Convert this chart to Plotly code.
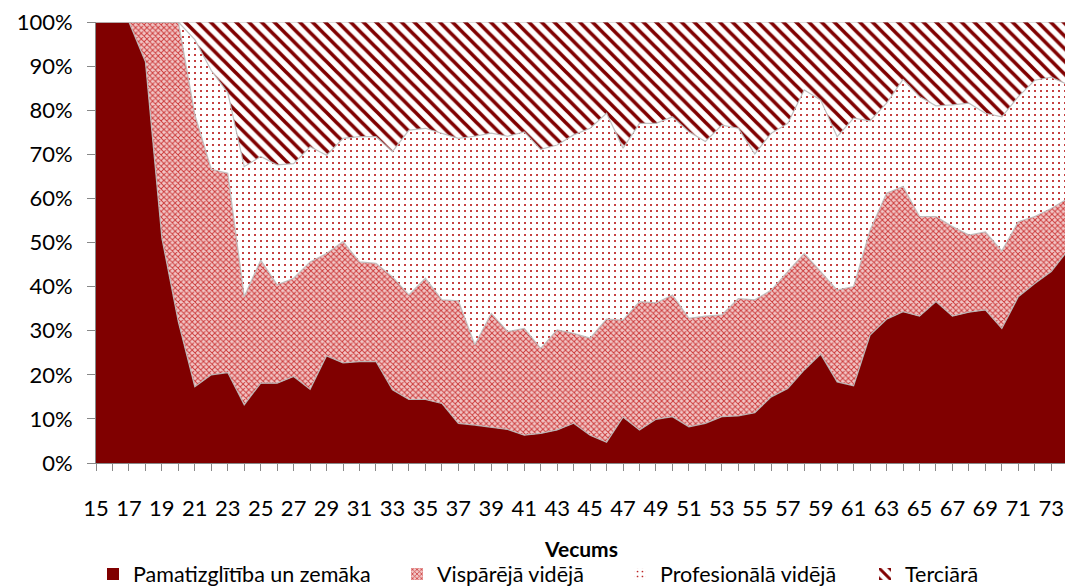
import plotly.graph_objects as go

ages = list(range(15, 75))

pamat = [100, 100, 100, 91, 51, 32, 17.3, 20, 20.5, 13.2,
         18.1, 18.1, 19.6, 16.7, 24.3, 22.7, 23.0, 23.0, 16.6, 14.4,
         14.4, 13.5, 9.0, 8.6, 8.1, 7.6, 6.3, 6.7, 7.5, 9.0,
         6.3, 4.7, 10.4, 7.5, 9.9, 10.5, 8.2, 9.0, 10.5, 10.7,
         11.4, 15.0, 16.9, 21.1, 24.7, 18.4, 17.5, 29.0, 32.6, 34.3,
         33.3, 36.6, 33.3, 34.2, 34.7, 30.5, 37.7, 40.7, 43.4, 48.2]

vispar = [0, 0, 0, 9, 49, 68, 61.7, 46.6, 45.2, 24.5,
          27.9, 22.3, 22.3, 28.9, 23.2, 27.5, 22.6, 22.3, 25.6, 23.7,
          27.5, 23.5, 27.8, 18.2, 25.8, 22.2, 24.2, 19.3, 22.7, 20.4,
          22.0, 27.9, 22.0, 29.1, 26.4, 27.6, 24.6, 24.3, 23.1, 26.6,
          25.6, 24.2, 26.5, 26.4, 18.7, 20.8, 22.5, 23.8, 28.6, 28.4,
          22.6, 19.3, 20.3, 17.5, 17.7, 17.6, 17.0, 15.2, 14.3, 11.8]

prof = [0, 0, 0, 0, 0, 0, 17, 22.4, 18.3, 29.5,
        23.5, 27.2, 26.0, 26.1, 22.3, 23.4, 28.4, 28.7, 28.4, 37.4,
        34.0, 37.8, 36.8, 47.3, 40.9, 44.3, 44.6, 45.1, 41.9, 45.0,
        47.6, 46.7, 39.0, 40.4, 40.7, 40.4, 42.3, 39.6, 43.0, 38.6,
        33.1, 35.6, 33.6, 37.1, 38.9, 34.8, 38.2, 24.8, 20.4, 24.3,
        27.2, 25.1, 27.6, 29.9, 26.9, 30.4, 28.4, 30.9, 29.8, 25.8]

terc = [0, 0, 0, 0, 0, 0, 4, 11, 16, 32.8,
        30.5, 32.4, 32.1, 28.3, 30.2, 26.4, 26, 26, 29.4, 24.5,
        24.1, 25.2, 26.4, 25.9, 25.2, 25.9, 24.9, 28.9, 27.9, 25.6,
        24.1, 20.7, 28.6, 23, 23, 21.5, 24.9, 27.1, 23.4, 24.1,
        29.9, 25.2, 23, 15.4, 17.7, 26, 21.8, 22.4, 18.4, 13,
        16.9, 19, 18.8, 18.4, 20.7, 21.5, 16.9, 13.2, 12.5, 14.2]

names = ["Pamatizglītība un zemāka", "Vispārējā vidējā", "Profesionālā vidējā", "Terciārā"]
tick_vals = list(range(15, 75, 2))
tick_text = [str(v) for v in tick_vals]
y_vals = list(range(0, 101, 10))
y_text = [f"{v}%" for v in y_vals]

FONT = "Lato"
DARK = "#800000"
edge = "rgba(185,185,185,0.9)"

W, H = 1065, 588
L, T, B = 96, 22, 125
plot_h = H - T - B

patterns = [
    None,
    dict(shape="x", size=4, solidity=0.42, fgcolor="#CC3A3A", bgcolor="#F2C6C6", fgopacity=1),
    dict(shape=".", size=6, solidity=0.09, fgcolor="#B00000", bgcolor="white", fgopacity=1),
    dict(shape="\\", size=9, solidity=0.4, fgcolor=DARK, bgcolor="white", fgopacity=1),
]

fig = go.Figure()
series = [pamat, vispar, prof, terc]
for i, (nm, vals) in enumerate(zip(names, series)):
    kw = dict(x=ages, y=vals, name=nm, mode="lines", stackgroup="one",
              line=dict(color=edge, width=1.2), showlegend=False, hoverinfo="skip")
    if patterns[i] is None:
        kw["fillcolor"] = DARK
    else:
        kw["fillpattern"] = patterns[i]
        kw["fillcolor"] = "white"
    fig.add_trace(go.Scatter(**kw))

# legend swatches, one legend box per entry
legend_ids = ["legend", "legend2", "legend3", "legend4"]
text_starts = [133, 437, 660, 905]
for i, nm in enumerate(names):
    if patterns[i] is None:
        mk = dict(color=DARK, line=dict(width=0))
    else:
        p = dict(patterns[i])
        mk = dict(color=p["bgcolor"], pattern=p, line=dict(width=0))
    fig.add_trace(go.Bar(x=[None], y=[None], name=nm, marker=mk, showlegend=True,
                         legend=legend_ids[i]))

legend_cfg = {}
for lid, ts in zip(legend_ids, text_starts):
    legend_cfg[lid] = dict(orientation="h", xref="container", yref="container",
                           x=(ts - 40) / W, xanchor="left",
                           y=(H - 574) / H, yanchor="middle",
                           font=dict(size=21.5, family=FONT, color="black"),
                           itemwidth=30, bgcolor="rgba(0,0,0,0)", borderwidth=0)

fig.update_layout(
    width=W, height=H,
    margin=dict(l=L, r=0, t=T, b=B),
    paper_bgcolor="white", plot_bgcolor="white",
    font=dict(family=FONT, size=22, color="black"),
    showlegend=True,
    xaxis=dict(range=[15, 15 + (W - L) / 16.47], tickmode="array", tickvals=tick_vals, ticktext=tick_text,
               ticks="outside", ticklen=7, tickcolor="#888888", showgrid=False, zeroline=False,
               showline=True, linecolor="#888888", linewidth=1, automargin=False,
               ticklabelstandoff=19, tickfont=dict(size=22),
               minor=dict(dtick=1, tick0=15, ticks="outside", ticklen=7, tickcolor="#888888", showgrid=False)),
    yaxis=dict(range=[0, 100], tickmode="array", tickvals=y_vals, ticktext=y_text,
               ticks="outside", ticklen=8, tickcolor="#888888", showgrid=False, zeroline=False,
               showline=True, linecolor="#888888", linewidth=1, automargin=False,
               ticklabelstandoff=10, tickfont=dict(size=22)),
    annotations=[dict(text="<b>Vecums</b>", x=0.5, xref="paper", y=(463 - 548) / plot_h, yref="paper",
                      showarrow=False, xanchor="center", yanchor="middle", font=dict(size=21),
                      borderpad=0)],
    **legend_cfg,
)

fig.write_html(
    "out.html",
    config={"displayModeBar": False},
    post_script="document.body.style.margin='0px';document.body.style.overflow='hidden';",
)
